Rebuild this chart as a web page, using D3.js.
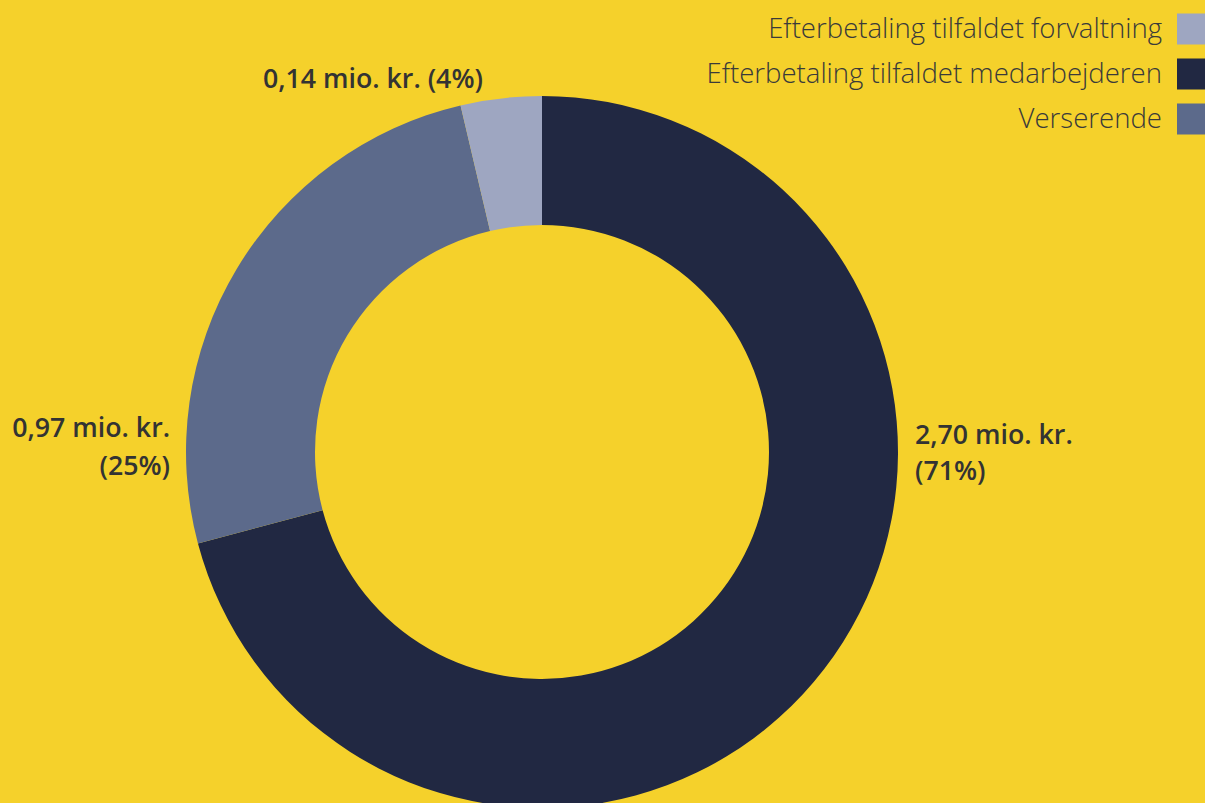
<!DOCTYPE html>
<html>
<head>
<meta charset="utf-8">
<script src="https://cdn.jsdelivr.net/npm/d3@7"></script>
<style>
  html, body { margin: 0; padding: 0; background: #f5d12b; overflow: hidden; }
  svg { display: block; }
</style>
</head>
<body>
<div id="chart"></div>
<script>
  const WIDTH = 1205;
  const HEIGHT = 803;

  // Slices in drawing order (clockwise from 12 o'clock)
  const sliceKeys = ['medarbejderen', 'verserende', 'forvaltning'];
  const sliceValues = [2.70, 0.97, 0.14];
  const slicePercent = ['71%', '25%', '4%'];
  const sliceColors = ['#212842', '#5c6a8b', '#9ea6c1'];

  // Legend order as shown in the picture
  const legendLabels = [
    'Efterbetaling tilfaldet forvaltning',
    'Efterbetaling tilfaldet medarbejderen',
    'Verserende'
  ];
  const legendColors = ['#9ea6c1', '#212842', '#5c6a8b'];

  const CX = 542, CY = 452;
  const R_OUTER = 356, R_INNER = 227;

  const fmt = v => d3.format('.2f')(v).replace('.', ',');

  const svg = d3.select('#chart').append('svg')
    .attr('width', WIDTH)
    .attr('height', HEIGHT);

  svg.append('rect')
    .attr('width', WIDTH).attr('height', HEIGHT)
    .attr('fill', '#f5d12b');

  const pie = d3.pie().sort(null).value(d => d);
  const arcs = pie(sliceValues);
  const arc = d3.arc().innerRadius(R_INNER).outerRadius(R_OUTER);

  const g = svg.append('g').attr('transform', `translate(${CX},${CY})`);

  g.selectAll('path')
    .data(arcs)
    .enter()
    .append('path')
    .attr('d', arc)
    .attr('fill', (d, i) => sliceColors[i]);

  // fit a text element to the width it has in the picture
  function fitWidth(sel, w) {
    const node = sel.node();
    const cur = node.getComputedTextLength();
    const fs = parseFloat(sel.style('font-size'));
    sel.style('font-size', (fs * w / cur).toFixed(2) + 'px');
  }

  // Value labels
  const labelStyle = sel => sel
    .attr('fill', '#333333')
    .style('font-family', '"Open Sans", Lato, sans-serif')
    .style('font-weight', 600)
    .style('font-size', '24px');

  // large slice (right side)
  const t0 = svg.append('text').call(labelStyle)
    .attr('text-anchor', 'start');
  t0.append('tspan').attr('x', 915).attr('y', 444).text(`${fmt(sliceValues[0])} mio. kr.`);
  t0.append('tspan').attr('x', 915).attr('y', 480).text(`(${slicePercent[0]})`);

  // Verserende (left side)
  const t1 = svg.append('text').call(labelStyle)
    .attr('text-anchor', 'end');
  t1.append('tspan').attr('x', 170).attr('y', 437).text(`${fmt(sliceValues[1])} mio. kr.`);
  t1.append('tspan').attr('x', 170).attr('y', 475).text(`(${slicePercent[1]})`);

  // small slice (top)
  const t2 = svg.append('text').call(labelStyle)
    .attr('x', 263).attr('y', 88)
    .attr('text-anchor', 'start')
    .text(`${fmt(sliceValues[2])} mio. kr. (${slicePercent[2]})`);
  fitWidth(t2, 220);
  t0.style('font-size', t2.style('font-size'));
  t1.style('font-size', t2.style('font-size'));

  // Legend
  const legend = svg.append('g');
  legendLabels.forEach((label, i) => {
    const y = 29 + i * 45;
    legend.append('rect')
      .attr('x', 1177).attr('y', y - 15.5)
      .attr('width', 31).attr('height', 31)
      .attr('fill', legendColors[i]);
    const t = legend.append('text')
      .attr('x', 1162).attr('y', y + 9)
      .attr('text-anchor', 'end')
      .attr('fill', '#3a3a3a')
      .style('font-family', '"Open Sans", Lato, sans-serif')
      .style('font-weight', 300)
      .style('font-size', '24px')
      .text(label);
    if (i === 0) fitWidth(t, 394);
    else t.style('font-size', legend.select('text').style('font-size'));
  });
</script>
</body>
</html>
